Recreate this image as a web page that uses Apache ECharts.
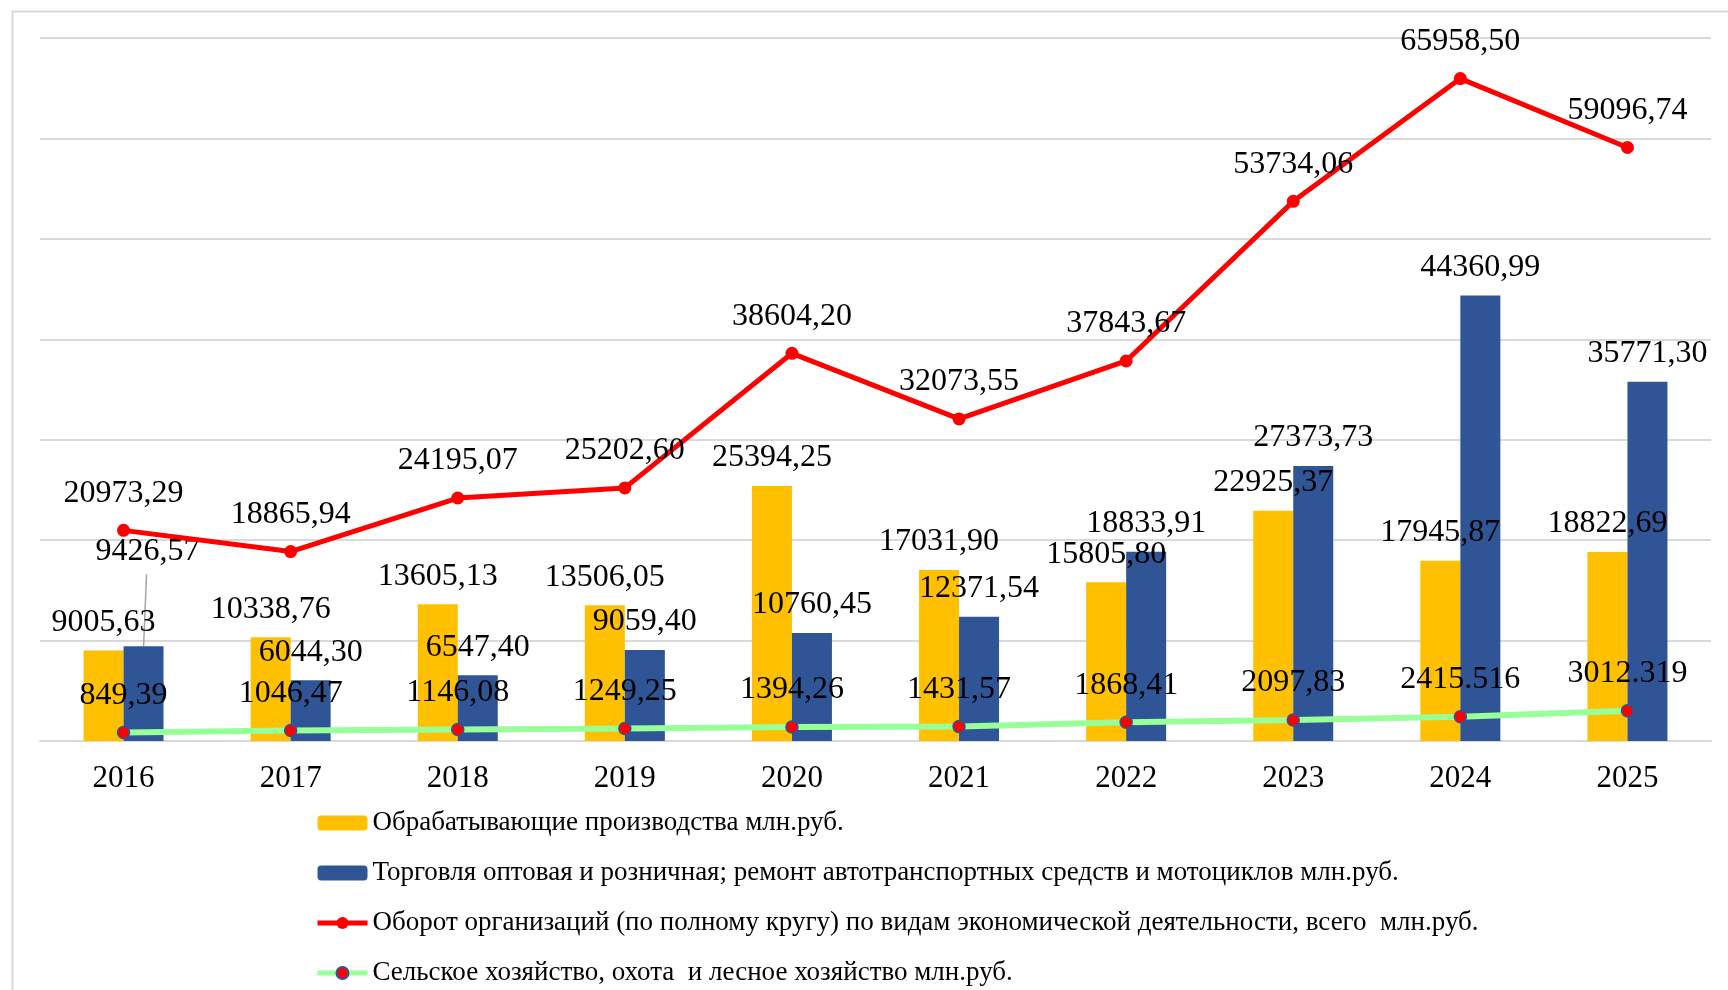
<!DOCTYPE html>
<html>
<head>
<meta charset="utf-8">
<script src="https://cdn.jsdelivr.net/npm/echarts@6/dist/echarts.min.js"></script>
<style>
html,body{margin:0;padding:0;background:#fff;}
#chart{width:1728px;height:990px;}
</style>
</head>
<body>
<div id="chart"></div>
<script>
const years = ['2016','2017','2018','2019','2020','2021','2022','2023','2024','2025'];
const manufacturing = [9005.63, 10338.76, 13605.13, 13506.05, 25394.25, 17031.90, 15805.80, 22925.37, 17945.87, 18822.69];
const trade = [9426.57, 6044.30, 6547.40, 9059.40, 10760.45, 12371.54, 18833.91, 27373.73, 44360.99, 35771.30];
const turnover = [20973.29, 18865.94, 24195.07, 25202.60, 38604.20, 32073.55, 37843.67, 53734.06, 65958.50, 59096.74];
const agriculture = [849.39, 1046.47, 1146.08, 1249.25, 1394.26, 1431.57, 1868.41, 2097.83, 2415.516, 3012.319];

const names = [
  'Обрабатывающие производства млн.руб.',
  'Торговля оптовая и розничная; ремонт автотранспортных средств и мотоциклов млн.руб.',
  'Оборот организаций (по полному кругу) по видам экономической деятельности, всего  млн.руб.',
  'Сельское хозяйство, охота  и лесное хозяйство млн.руб.'
];

const FONT = 'Liberation Serif';

function fmt(v) {
  const s = String(v);
  const dec = s.split('.')[1];
  if (dec && dec.length === 3) return s;
  return v.toFixed(2).replace('.', ',');
}

const barLabel = {
  show: true, position: 'top', distance: 0, verticalAlign: 'middle', offset: [0, -28],
  fontFamily: FONT, fontSize: 32, color: '#000',
  formatter: p => fmt(p.value)
};
const lineLabel = {
  show: true, position: 'inside', offset: [0, -37],
  fontFamily: FONT, fontSize: 32, color: '#000',
  formatter: p => fmt(p.value)
};

const tradeData = trade.map((v, i) => i === 0 ? { value: v, label: { offset: [4, -95] } } : v);

const chart = echarts.init(document.getElementById('chart'), null, { renderer: 'canvas' });
chart.setOption({
  animation: false,
  backgroundColor: '#fff',
  graphic: [{
    id: 'frame', type: 'rect', left: 10, top: 9, silent: true, z: -10,
    shape: { width: 1800, height: 1100 },
    style: { fill: 'none', stroke: '#d9d9d9', lineWidth: 2 }
  }],
  grid: { left: 40, right: 17, top: 38, bottom: 249, containLabel: false, outerBoundsMode: 'none' },
  legend: {
    orient: 'vertical', left: 315, top: 809, padding: 0,
    itemWidth: 50, itemHeight: 15, itemGap: 22,
    lineStyle: { width: 5 },
    textStyle: { fontFamily: FONT, fontSize: 27, lineHeight: 28, color: '#000' },
    data: names
  },
  xAxis: {
    type: 'category', data: years,
    axisLine: { show: true, lineStyle: { color: '#d9d9d9', width: 2 } },
    axisTick: { show: false },
    axisLabel: { fontFamily: FONT, fontSize: 31, color: '#000', margin: 22 }
  },
  yAxis: {
    type: 'value', min: 0, max: 70000, interval: 10000,
    axisLabel: { show: false }, axisLine: { show: false }, axisTick: { show: false },
    splitLine: { show: true, lineStyle: { color: '#d9d9d9', width: 2 } }
  },
  series: [
    { name: names[0], type: 'bar', data: manufacturing, barWidth: 40, barGap: '0%',
      itemStyle: { color: '#FFC000' }, label: barLabel, z: 2 },
    { name: names[1], type: 'bar', data: tradeData, barWidth: 40, barGap: '0%',
      itemStyle: { color: '#2F5597' }, label: barLabel, z: 2 },
    { name: names[2], type: 'line', data: turnover, symbol: 'circle', symbolSize: 13,
      lineStyle: { color: '#FF0000', width: 5 }, itemStyle: { color: '#FF0000' },
      label: lineLabel, z: 4 },
    { name: names[3], type: 'line', data: agriculture, symbol: 'circle', symbolSize: 12,
      lineStyle: { color: '#99FF99', width: 6 },
      itemStyle: { color: '#FF0000', borderColor: '#2F5597', borderWidth: 1.5 },
      label: lineLabel, z: 3 }
  ]
});

// leader line from the moved 2016 trade label down to its bar, positioned via the axis scales
const bx = chart.convertToPixel({ xAxisIndex: 0 }, years[0]) + 20;
const by = chart.convertToPixel({ yAxisIndex: 0 }, trade[0]);
chart.setOption({
  graphic: [{
    id: 'leader', type: 'line', silent: true, z: 1,
    shape: { x1: bx + 3, y1: by - 72, x2: bx, y2: by },
    style: { stroke: '#a6a6a6', lineWidth: 1.5 }
  }]
});
</script>
</body>
</html>
